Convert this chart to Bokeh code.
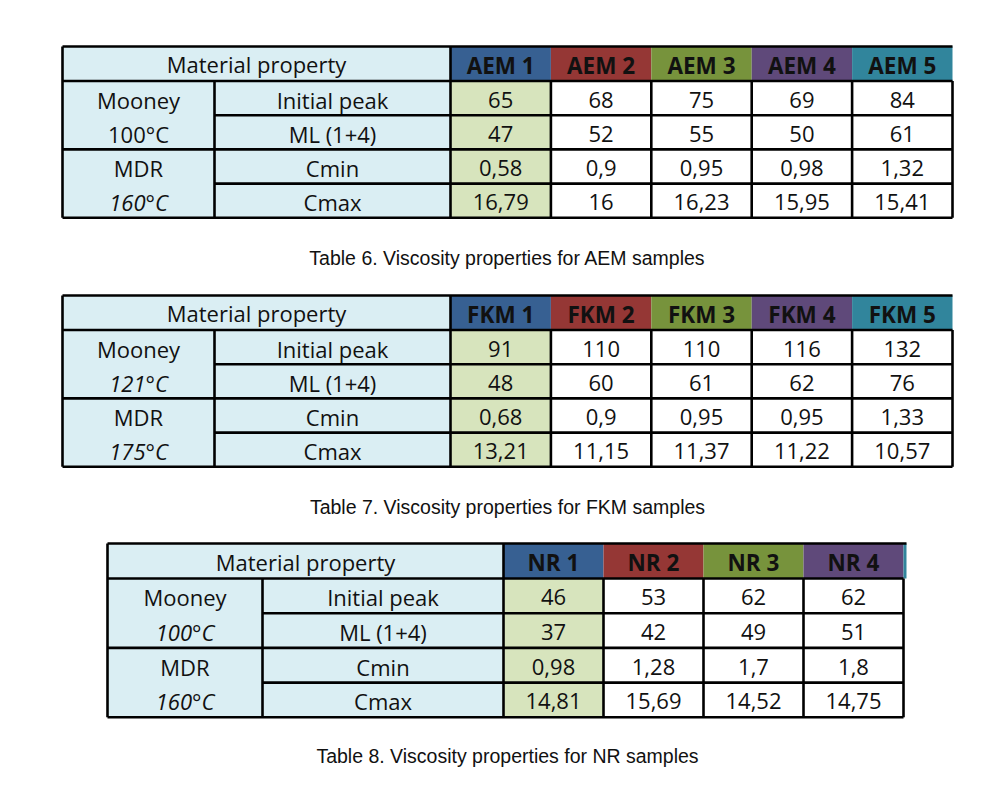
from bokeh.plotting import figure
from bokeh.models import Range1d
from bokeh.core.properties import value
from bokeh.embed import file_html
from bokeh.resources import INLINE

# ---------------- data ----------------
header_label = "Material property"
row_labels = ["Initial peak", "ML (1+4)", "Cmin", "Cmax"]

aem_samples = ["AEM 1", "AEM 2", "AEM 3", "AEM 4", "AEM 5"]
aem_initial_peak = [65, 68, 75, 69, 84]
aem_ml14 = [47, 52, 55, 50, 61]
aem_cmin = [0.58, 0.9, 0.95, 0.98, 1.32]
aem_cmax = [16.79, 16, 16.23, 15.95, 15.41]
aem_groups = [("Mooney", "100°C"), ("MDR", "160°C")]
aem_caption = "Table 6. Viscosity properties for AEM samples"

fkm_samples = ["FKM 1", "FKM 2", "FKM 3", "FKM 4", "FKM 5"]
fkm_initial_peak = [91, 110, 110, 116, 132]
fkm_ml14 = [48, 60, 61, 62, 76]
fkm_cmin = [0.68, 0.9, 0.95, 0.95, 1.33]
fkm_cmax = [13.21, 11.15, 11.37, 11.22, 10.57]
fkm_groups = [("Mooney", "121°C"), ("MDR", "175°C")]
fkm_caption = "Table 7. Viscosity properties for FKM samples"

nr_samples = ["NR 1", "NR 2", "NR 3", "NR 4"]
nr_initial_peak = [46, 53, 62, 62]
nr_ml14 = [37, 42, 49, 51]
nr_cmin = [0.98, 1.28, 1.7, 1.8]
nr_cmax = [14.81, 15.69, 14.52, 14.75]
nr_groups = [("Mooney", "100°C"), ("MDR", "160°C")]
nr_caption = "Table 8. Viscosity properties for NR samples"

# ---------------- style ----------------
SAMPLE_COLORS = ["#376092", "#953735", "#77933C", "#5F497A", "#31859C"]
LABEL_BG = "#DAEEF3"
FIRST_COL_BG = "#D7E4BD"
LINE_W = 2.6
FONT = "Open Sans"
FONT_SIZE = "22px"
HEAD_SIZE = "22.5px"
CAP_FONT = "Liberation Sans"
CAP_SIZE = "19.5px"
TEXT_COLOR = "#111111"

W, H = 991, 780
OFF = 0


def fmt(v):
    return f"{v:g}".replace(".", ",")


p = figure(width=W, height=H, x_range=Range1d(0, W), y_range=Range1d(H, 0),
           output_backend="svg", toolbar_location=None, min_border=0,
           x_axis_location=None, y_axis_location=None)
p.grid.visible = False
p.outline_line_color = None
p.background_fill_color = "white"
p.border_fill_color = "white"


def draw_table(left, top, w1, w2, wv, header_h, row_h, samples, rows, groups,
               temp_italic, caption, caption_y, caption_x, sliver=False):
    left -= OFF
    top -= OFF
    caption_y -= OFF
    caption_x -= OFF
    n = len(samples)
    x1 = left + w1
    x2 = x1 + w2
    xv = [x2 + i * wv for i in range(n + 1)]
    right = xv[-1]
    ys = [top, top + header_h] + [top + header_h + (i + 1) * row_h for i in range(4)]

    # backgrounds
    p.quad(left=[left, left], right=[x2, x2], top=[ys[0], ys[1]], bottom=[ys[1], ys[5]],
           fill_color=LABEL_BG, line_color=None)
    p.quad(left=[xv[0]], right=[xv[1]], top=[ys[1]], bottom=[ys[5]],
           fill_color=FIRST_COL_BG, line_color=None)
    p.quad(left=xv[:-1], right=xv[1:], top=[ys[0]] * n, bottom=[ys[1]] * n,
           fill_color=SAMPLE_COLORS[:n], line_color=None)
    if sliver:
        p.quad(left=[right], right=[right + 3], top=[ys[0]], bottom=[ys[1]],
               fill_color=SAMPLE_COLORS[n], line_color=None)

    # lines
    sx0, sy0, sx1, sy1 = [], [], [], []

    def seg(a, b, c, d):
        sx0.append(a); sy0.append(b); sx1.append(c); sy1.append(d)

    top_right = right + (3 if sliver else 0)
    seg(left, ys[0], top_right, ys[0])
    seg(left, ys[1], right, ys[1])
    seg(x1, ys[2], right, ys[2])
    seg(left, ys[3], right, ys[3])
    seg(x1, ys[4], right, ys[4])
    seg(left, ys[5], right, ys[5])
    seg(left, ys[0], left, ys[5])
    seg(x1, ys[1], x1, ys[5])
    seg(x2, ys[0], x2, ys[5])
    for xx in xv[1:]:
        seg(xx, ys[1], xx, ys[5])
    p.segment(x0=sx0, y0=sy0, x1=sx1, y1=sy1, line_color="black", line_width=LINE_W)

    mids = [(ys[i] + ys[i + 1]) / 2 + 1.5 for i in range(5)]
    common = dict(text_font=value(FONT), text_font_size=FONT_SIZE,
                  text_align="center", text_baseline="middle", text_color=TEXT_COLOR)

    # header
    p.text(x=[(left + x2) / 2], y=[mids[0] - 1], text=[header_label], **common)
    head = dict(common)
    head["text_font_size"] = HEAD_SIZE
    p.text(x=[(xv[i] + xv[i + 1]) / 2 for i in range(n)], y=[mids[0]] * n,
           text=samples, text_font_style="bold", **head)
    # row labels
    p.text(x=[(x1 + x2) / 2] * 4, y=mids[1:], text=row_labels, **common)
    # group labels
    c1 = (left + x1) / 2
    p.text(x=[c1, c1], y=[mids[1], mids[3]], text=[g[0] for g in groups], **common)
    for gi, g in enumerate(groups):
        p.text(x=[c1], y=[mids[2 + 2 * gi]], text=[g[1]],
               text_font_style="italic" if temp_italic[gi] else "normal", **common)
    # values
    vx, vy, vt = [], [], []
    for ri, r in enumerate(rows):
        for ci, v in enumerate(r):
            vx.append((xv[ci] + xv[ci + 1]) / 2)
            vy.append(mids[ri + 1])
            vt.append(fmt(v))
    p.text(x=vx, y=vy, text=vt, **common)
    # caption
    p.text(x=[caption_x], y=[caption_y], text=[caption], text_font=value(CAP_FONT),
           text_font_size=CAP_SIZE, text_align="center", text_baseline="middle",
           text_color="#111111")


draw_table(62, 46, 152, 236, 100.4, 34.5, 34.2, aem_samples,
           [aem_initial_peak, aem_ml14, aem_cmin, aem_cmax], aem_groups,
           [False, True], aem_caption, 257, 507)
draw_table(62, 295, 152, 236, 100.4, 34.5, 34.2, fkm_samples,
           [fkm_initial_peak, fkm_ml14, fkm_cmin, fkm_cmax], fkm_groups,
           [True, True], fkm_caption, 506, 507)
draw_table(107, 543, 155, 241, 100, 35, 34.7, nr_samples,
           [nr_initial_peak, nr_ml14, nr_cmin, nr_cmax], nr_groups,
           [True, True], nr_caption, 755, 507, sliver=True)

open("out.html", "w").write(file_html(p, INLINE))
